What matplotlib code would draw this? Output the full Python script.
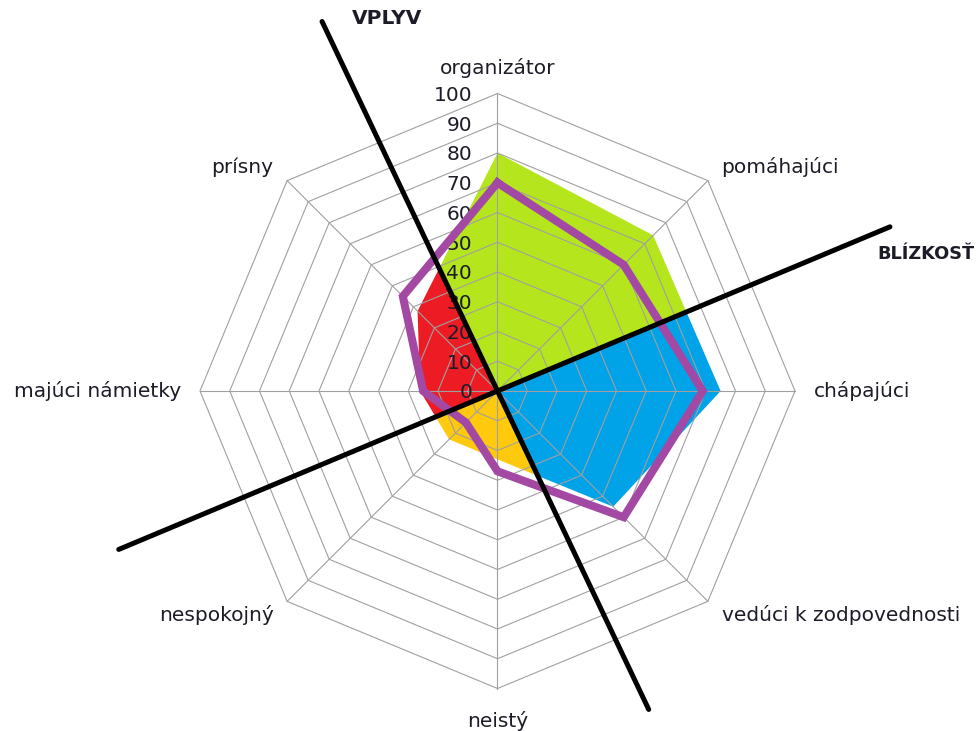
import numpy as np
import matplotlib.pyplot as plt
from matplotlib.path import Path

# --- data -------------------------------------------------------------
categories = ['organizátor', 'pomáhajúci', 'chápajúci', 'vedúci k zodpovednosti',
              'neistý', 'nespokojný', 'majúci námietky', 'prísny']
profile_values = [80, 74, 75, 55, 23, 23, 26, 38]      # filled shape
person_values = [70, 60, 69, 60, 27, 15, 25, 45]       # purple outline
tick_values = list(range(0, 101, 10))

axis_names = ['VPLYV', 'BLÍZKOSŤ']
axis_angles = [115.4, 22.7]            # direction of labelled end, degrees
axis_reach = [(137.5, 118.5), (143.0, 138.0)]   # (labelled end, opposite end)

quadrant_colors = ['#B5E61D', '#00A2E8', '#FFC90E', '#ED1C24']

# --- layout -----------------------------------------------------------
SCALE = 2.975          # pixels per value unit
CX, CY = 497.5, 391.0  # centre of the radar in pixels
W, H = 978, 731
GRID = '#a0a0a0'
FONT = 'DejaVu Sans'
TEXT = '#1c1c28'

angles = 90 - 45 * np.arange(len(categories))


def to_xy(angle_deg, value):
    a = np.deg2rad(angle_deg)
    return np.asarray(value) * np.cos(a), np.asarray(value) * np.sin(a)


fig = plt.figure(figsize=(W / 100, H / 100), dpi=100)
ax = fig.add_axes([0, 0, 1, 1])
ax.set_xlim(-CX / SCALE, (W - CX) / SCALE)
ax.set_ylim(-(H - CY) / SCALE, CY / SCALE)
ax.axis('off')

# filled profile, coloured by the quadrant cut out by the two black axes
px, py = to_xy(angles, profile_values)
vplyv, blizkost = axis_angles
bounds = [(blizkost, vplyv), (vplyv - 180, blizkost),
          (blizkost + 180, vplyv + 180), (vplyv, blizkost + 180)]
for (t1, t2), color in zip(bounds, quadrant_colors):
    clip = Path.wedge(t1, t2)
    clip = Path(clip.vertices * 300, clip.codes)
    patches = ax.fill(px, py, color=color, lw=0, zorder=1)
    for p in patches:
        p.set_clip_path(clip, ax.transData)

# octagonal grid and spokes
ring_angles = np.append(angles, angles[0])
for v in tick_values[1:]:
    gx, gy = to_xy(ring_angles, v)
    ax.plot(gx, gy, color=GRID, lw=0.8, zorder=2)
for a in angles:
    sx, sy = to_xy(a, [0, 100])
    ax.plot(sx, sy, color=GRID, lw=0.8, zorder=2)

# value ticks along the top spoke
for v in tick_values:
    ax.text(-8.5, v - 0.6, str(v), ha='right', va='center', fontsize=14.5,
            family=FONT, color=TEXT, zorder=3)

# category labels
for a, name in zip(angles, categories):
    c = np.cos(np.deg2rad(a))
    s = np.sin(np.deg2rad(a))
    ha = 'left' if c > 0.1 else ('right' if c < -0.1 else 'center')
    r = 106.5 if abs(c) > 0.1 else 108.5
    lx, ly = to_xy(a, r)
    if abs(c) <= 0.1:
        ly = ly + (0 if s > 0 else -2.5)
    ax.text(lx, ly, name, ha=ha, va='center', fontsize=14.5, family=FONT,
            color=TEXT, zorder=3)

# purple outline
ox, oy = to_xy(ring_angles, person_values + person_values[:1])
ax.plot(ox, oy, color='#A349A4', lw=5.8, solid_joinstyle='miter', zorder=4)

# black VPLYV / BLIZKOST axes
for name, a, (r1, r2) in zip(axis_names, axis_angles, axis_reach):
    ex, ey = to_xy(a, r1)
    bx, by = to_xy(a + 180, r2)
    ax.plot([bx, ex], [by, ey], color='black', lw=3.6,
            solid_capstyle='round', zorder=5)
    if name == 'VPLYV':
        ax.text(ex + 10, ey + 1, name, ha='left', va='center', fontsize=14.5,
                family=FONT, weight='bold', color=TEXT, zorder=6)
    else:
        # squeezed so it still fits against the right edge
        ax.text(ex - 4.2, ey - 9, name, ha='left', va='center', fontsize=12.8,
                family=FONT, weight='bold', color=TEXT, zorder=6)

fig.savefig('out.png', dpi=100)
plt.close(fig)
